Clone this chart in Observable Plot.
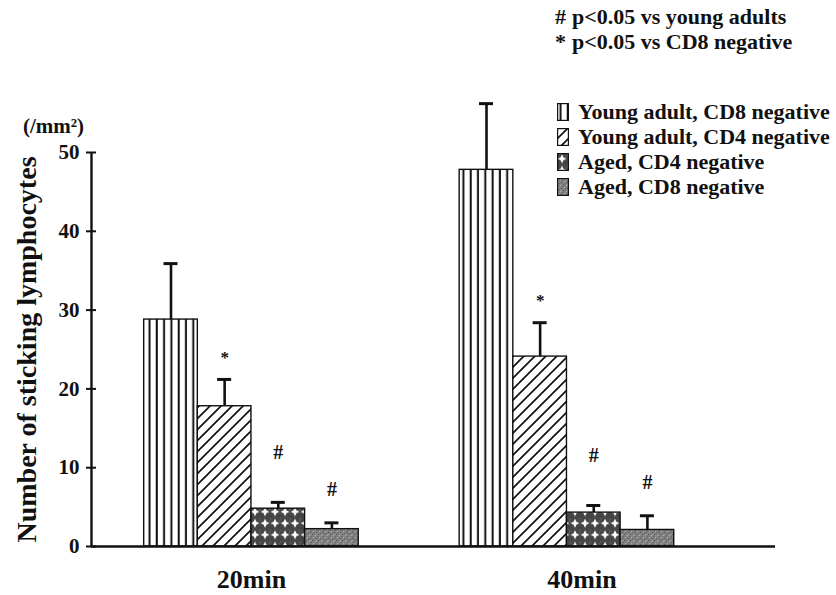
<!DOCTYPE html>
<html>
<head>
<meta charset="utf-8">
<script src="https://cdn.jsdelivr.net/npm/d3@7"></script>
<script src="https://cdn.jsdelivr.net/npm/@observablehq/plot@0.6"></script>
<style>
  html, body { margin: 0; padding: 0; background: #fff; }
  #fig { position: relative; width: 836px; height: 595px; font-family: "Liberation Serif", "Times New Roman", serif; font-weight: bold; color: #111; }
  #fig .note, #fig .key { position: absolute; white-space: nowrap; font-size: 22px; line-height: 22px; }
  #fig .key svg { position: absolute; left: 0; top: 2px; }
  #fig .key span { position: absolute; left: 21px; top: 0; }
</style>
</head>
<body>
<svg width="0" height="0" style="position:absolute">
  <defs>
    <!-- vertical stripes -->
    <pattern id="pat-vstripe" patternUnits="userSpaceOnUse" width="7.3" height="10">
      <rect width="7.3" height="10" fill="#fff"/>
      <rect x="2.5" width="2" height="10" fill="#111"/>
    </pattern>
    <!-- diagonal hatching -->
    <pattern id="pat-diag" patternUnits="userSpaceOnUse" width="11" height="11">
      <rect width="11" height="11" fill="#fff"/>
      <path d="M-2,2 L2,-2 M0,11 L11,0 M9,13 L13,9" stroke="#111" stroke-width="1.7"/>
    </pattern>
    <!-- dark ground with white stars -->
    <pattern id="pat-star" patternUnits="userSpaceOnUse" width="10" height="11.5">
      <rect width="10" height="11.5" fill="#474747"/>
      <rect x="0" y="1" width="1" height="1" fill="#777"/>
      <rect x="8" y="9" width="1" height="1" fill="#2e2e2e"/>
      <rect x="9" y="3" width="1" height="1" fill="#6e6e6e"/>
      <rect x="1" y="10" width="1" height="1" fill="#333"/>
      <polygon points="5,1.2 6.4,4.4 9.4,5.8 6.4,7.2 5,10.4 3.6,7.2 0.6,5.8 3.6,4.4" fill="#fff"/>
    </pattern>
    <!-- grey stipple -->
    <pattern id="pat-stipple" patternUnits="userSpaceOnUse" width="6" height="6">
      <rect width="6" height="6" fill="#828282"/>
      <rect x="0" y="0" width="1" height="1" fill="#4e4e4e"/>
      <rect x="3" y="1" width="1" height="1" fill="#b0b0b0"/>
      <rect x="1" y="3" width="1" height="1" fill="#aaa"/>
      <rect x="4" y="4" width="1" height="1" fill="#4a4a4a"/>
      <rect x="5" y="2" width="1" height="1" fill="#5e5e5e"/>
      <rect x="2" y="5" width="1" height="1" fill="#606060"/>
      <rect x="4" y="0" width="1" height="1" fill="#a4a4a4"/>
    </pattern>
  </defs>
</svg>

<div id="fig"></div>

<script>
// Time points after superfusion
const groups = ["20min", "40min"];

// Lymphocyte groups (legend order)
const series = [
  "Young adult, CD8 negative",
  "Young adult, CD4 negative",
  "Aged, CD4 negative",
  "Aged, CD8 negative"
];

// Mean number of sticking lymphocytes (/mm²) at 20min and 40min
const youngCD8Neg = [28.8, 47.8];
const youngCD4Neg = [17.8, 24.1];
const agedCD4Neg = [4.8, 4.3];
const agedCD8Neg = [2.2, 2.1];

// Upper error (SD)
const youngCD8NegSD = [7.1, 8.4];
const youngCD4NegSD = [3.4, 4.3];
const agedCD4NegSD = [0.8, 0.9];
const agedCD8NegSD = [0.8, 1.8];

// Significance symbols per series
const sigMarks = ["", "*", "#", "#"];

// Y axis ticks
const yTicks = [0, 10, 20, 30, 40, 50];

const means = [youngCD8Neg, youngCD4Neg, agedCD4Neg, agedCD8Neg];
const sds = [youngCD8NegSD, youngCD4NegSD, agedCD4NegSD, agedCD8NegSD];
const fills = ["url(#pat-vstripe)", "url(#pat-diag)", "url(#pat-star)", "url(#pat-stipple)"];
const sigOffset = [0, -22, -50, -33];

const barW = 0.17; // bar width in group-spacing units
const rows = groups.flatMap((g, gi) => series.map((s, si) => ({
  group: g, gi, series: s, si,
  mean: means[si][gi], sd: sds[si][gi], sig: sigMarks[si],
  x1: gi + (si - 2) * barW, x2: gi + (si - 1) * barW,
  xc: gi + (si - 1.5) * barW
})));

const xMin = -0.507, xMax = 1.661;
const bold = {fontWeight: "bold", fontFamily: "Liberation Serif"};

const barMarks = series.map((s, si) =>
  Plot.rectY(rows.filter(r => r.si === si), {
    x1: "x1", x2: "x2", y1: 0, y2: "mean",
    fill: fills[si], stroke: "#111", strokeWidth: 1.4
  })
);

const sigText = series.map((s, si) => Plot.text(rows.filter(r => r.si === si && r.sig), {
  x: "xc", y: d => d.mean + d.sd, text: "sig", dy: sigOffset[si],
  fontSize: si === 1 ? 17 : 20, fontFamily: "Liberation Serif", fill: "#111"
}));

// time-point labels sit slightly right on the second group
const groupLabelShift = [0, 15];
const groupLabels = groups.map((g, gi) => Plot.text([g], {
  x: gi, y: 0, text: d => d, dy: 33, dx: groupLabelShift[gi], fontSize: 26, ...bold
}));

const chart = Plot.plot({
  width: 836,
  height: 595,
  marginLeft: 91,
  marginRight: 61,
  marginTop: 152,
  marginBottom: 49,
  x: {domain: [xMin, xMax], axis: null},
  y: {domain: [0, 50], axis: null},
  style: {fontFamily: "Liberation Serif", background: "white", color: "#111", overflow: "visible"},
  marks: [
    ...barMarks,
    // error bars
    Plot.ruleX(rows, {x: "xc", y1: "mean", y2: d => d.mean + d.sd, stroke: "#111", strokeWidth: 2.6}),
    Plot.ruleY(rows, {y: d => d.mean + d.sd, x1: "xc", x2: "xc", insetLeft: -7, insetRight: -7, stroke: "#111", strokeWidth: 3}),
    ...sigText,
    // axes
    Plot.ruleX([xMin], {y1: 0, y2: 50, stroke: "#111", strokeWidth: 2.4}),
    Plot.ruleY([0], {stroke: "#111", strokeWidth: 2.4}),
    Plot.ruleY(yTicks, {y: d => d, x1: xMin, x2: xMin, insetLeft: -5, insetRight: -5, stroke: "#111", strokeWidth: 2}),
    Plot.text(yTicks, {x: xMin, y: d => d, text: d => String(d), textAnchor: "end", dx: -12, fontSize: 21, ...bold}),
    ...groupLabels,
    Plot.text(["Number of sticking lymphocytes"], {frameAnchor: "left", textAnchor: "middle", rotate: -90, dx: -64, fontSize: 28, ...bold}),
    Plot.text(["(/mm²)"], {frameAnchor: "top-left", textAnchor: "middle", dx: -38, dy: -34, fontSize: 21, ...bold})
  ]
});

const fig = document.getElementById("fig");
fig.appendChild(chart);

// Significance notes
const notes = [["#", "p<0.05 vs young adults", 6], ["*", "p<0.05 vs CD8 negative", 31]];
for (const [sym, txt, top] of notes) {
  const n = document.createElement("div");
  n.className = "note";
  n.style.left = "555px";
  n.style.top = top + "px";
  n.innerHTML = `<span style="display:inline-block;width:17px">${sym}</span>${txt}`;
  fig.appendChild(n);
}

// Pattern legend
const keyTops = [101, 126, 151, 176];
series.forEach((s, si) => {
  const k = document.createElement("div");
  k.className = "key";
  k.style.left = "557px";
  k.style.top = keyTops[si] + "px";
  k.innerHTML = `<svg width="12" height="18"><rect x="0.6" y="0.6" width="10.8" height="16.8" fill="${fills[si]}" stroke="#111" stroke-width="1.2"/></svg><span>${s}</span>`;
  fig.appendChild(k);
});
</script>
</body>
</html>
